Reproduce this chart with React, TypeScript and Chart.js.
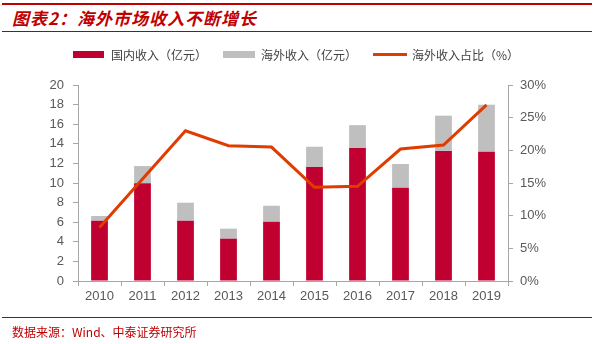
import React, { useEffect, useRef } from "react";
import { Chart, registerables } from "chart.js";

Chart.register(...registerables);

const years = ["2010", "2011", "2012", "2013", "2014", "2015", "2016", "2017", "2018", "2019"];
const domestic = [6.15, 9.97, 6.15, 4.32, 6.05, 11.62, 13.57, 9.52, 13.27, 13.19];
const overseas = [0.48, 1.76, 1.84, 1.02, 1.63, 2.08, 2.33, 2.42, 3.6, 4.8];
const overseasShare = [8.2, 15.6, 23.0, 20.7, 20.5, 14.35, 14.5, 20.2, 20.8, 26.95];

const seriesNames = ["国内收入（亿元）", "海外收入（亿元）", "海外收入占比（%）"];
const titleText = "图表2：海外市场收入不断增长";
const sourceText = "数据来源：Wind、中泰证券研究所";

const RED = "#c00030";
const GRAY = "#bfbfbf";
const LINE = "#e03c00";
const AXIS = "#a6a6a6";
const TICK = "#595959";

export default function App() {
  const ref = useRef<HTMLCanvasElement | null>(null);

  useEffect(() => {
    if (!ref.current) return;
    const tickFont = { family: "'Liberation Sans', Arial, sans-serif", size: 13 };
    const chart = new Chart(ref.current, {
      type: "bar",
      data: {
        labels: years,
        datasets: [
          {
            type: "bar",
            label: seriesNames[0],
            data: domestic,
            backgroundColor: RED,
            yAxisID: "y",
            stack: "s",
            order: 1,
            categoryPercentage: 1,
            barPercentage: 0.39,
          },
          {
            type: "bar",
            label: seriesNames[1],
            data: overseas,
            backgroundColor: GRAY,
            yAxisID: "y",
            stack: "s",
            order: 1,
            categoryPercentage: 1,
            barPercentage: 0.39,
          },
          {
            type: "line",
            label: seriesNames[2],
            data: overseasShare,
            borderColor: LINE,
            backgroundColor: LINE,
            borderWidth: 3,
            pointRadius: 0,
            tension: 0,
            yAxisID: "y1",
            order: 0,
          } as any,
        ],
      },
      options: {
        animation: false,
        responsive: false,
        maintainAspectRatio: false,
        layout: { padding: { top: 45, left: 0, right: 0, bottom: 0 } },
        plugins: { legend: { display: false }, tooltip: { enabled: false } },
        scales: {
          x: {
            stacked: true,
            offset: true,
            grid: {
              offset: true,
              drawOnChartArea: false,
              drawTicks: true,
              tickLength: 5,
              color: AXIS,
            },
            border: { color: AXIS, width: 1 },
            ticks: { color: TICK, font: tickFont, padding: 3, maxRotation: 0 },
            afterFit: (s: any) => {
              s.height = 39;
            },
          },
          y: {
            stacked: true,
            position: "left",
            min: 0,
            max: 20,
            grid: { drawOnChartArea: false, tickLength: 5, color: AXIS },
            border: { color: AXIS, width: 1 },
            ticks: { stepSize: 2, color: TICK, font: tickFont, padding: 9 },
            afterFit: (s: any) => {
              s.width = 78;
            },
          },
          y1: {
            position: "right",
            min: 0,
            max: 30,
            grid: { drawOnChartArea: false, tickLength: 5, color: AXIS },
            border: { color: AXIS, width: 1 },
            ticks: {
              stepSize: 5,
              color: TICK,
              font: tickFont,
              padding: 7,
              callback: (v: any) => v + "%",
            },
            afterFit: (s: any) => {
              s.width = 94;
            },
          },
        },
      },
    });
    return () => chart.destroy();
  }, []);

  const legendText: React.CSSProperties = {
    position: "absolute",
    top: 47,
    fontFamily: "'Noto Sans CJK SC', sans-serif",
    fontSize: 12,
    lineHeight: "16px",
    color: "#404040",
    whiteSpace: "nowrap",
  };

  return (
    <div
      style={{
        position: "fixed",
        left: 0,
        top: 0,
        width: 602,
        height: 344,
        background: "#ffffff",
        overflow: "hidden",
      }}
    >
      <div style={{ position: "absolute", left: 2, top: 3, width: 590, height: 2, background: "#c00000" }} />
      <div
        style={{
          position: "absolute",
          left: 12,
          top: 6,
          fontFamily: "'Noto Sans CJK SC', sans-serif",
          fontWeight: 700,
          fontStyle: "italic",
          fontSize: 17,
          lineHeight: "24px",
          letterSpacing: "1px",
          color: "#c00000",
          whiteSpace: "nowrap",
        }}
      >
        {titleText}
      </div>
      <div style={{ position: "absolute", left: 2, top: 31, width: 590, height: 1, background: "#b00000" }} />

      <canvas
        ref={ref}
        width={602}
        height={280}
        style={{ position: "absolute", left: 0, top: 40, width: 602, height: 280 }}
      />

      <div style={{ position: "absolute", left: 73, top: 51, width: 31, height: 7, background: RED }} />
      <div style={{ ...legendText, left: 111 }}>{seriesNames[0]}</div>
      <div style={{ position: "absolute", left: 223, top: 51, width: 32, height: 7, background: GRAY }} />
      <div style={{ ...legendText, left: 261 }}>{seriesNames[1]}</div>
      <div style={{ position: "absolute", left: 373, top: 53, width: 34, height: 3, background: LINE }} />
      <div style={{ ...legendText, left: 412 }}>{seriesNames[2]}</div>

      <div style={{ position: "absolute", left: 2, top: 317, width: 590, height: 1, background: "#b00000" }} />
      <div
        style={{
          position: "absolute",
          left: 12,
          top: 324,
          fontFamily: "'Noto Sans CJK SC', sans-serif",
          fontSize: 12,
          lineHeight: "16px",
          color: "#c00000",
          whiteSpace: "nowrap",
        }}
      >
        {sourceText}
      </div>
    </div>
  );
}
